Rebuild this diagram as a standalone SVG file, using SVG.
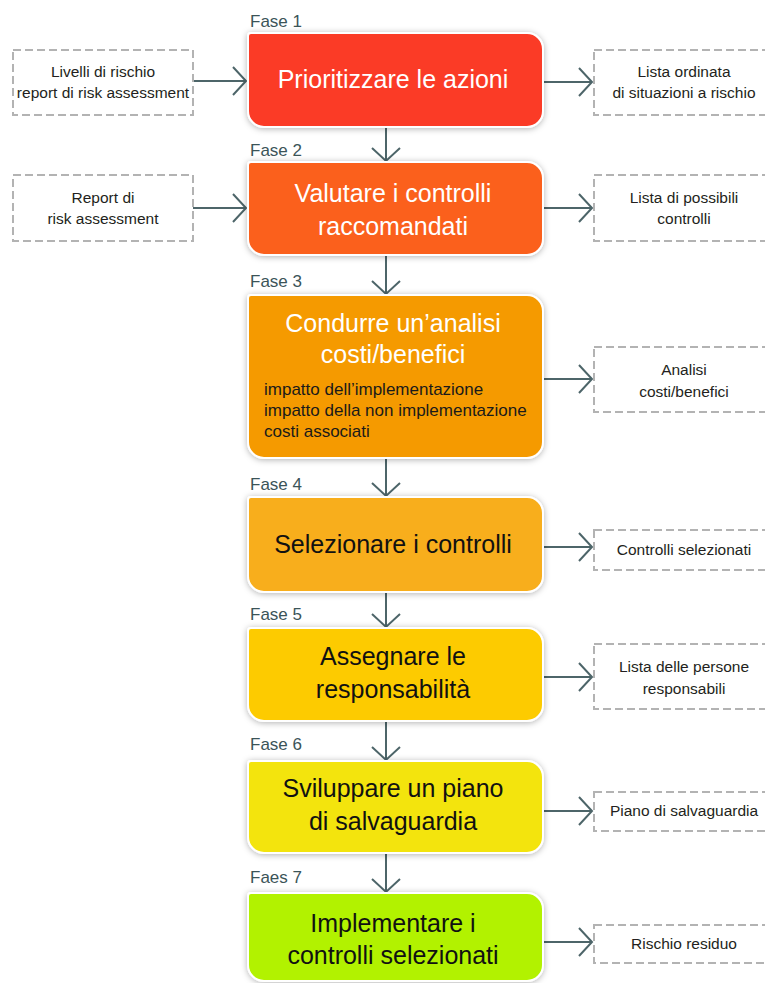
<svg xmlns="http://www.w3.org/2000/svg" width="765" height="983" viewBox="0 0 765 983">
  <style>
    .phase { stroke: #ffffff; stroke-width: 2; filter: url(#soft); }
    .title-w { font-family: "Liberation Sans", Arial, sans-serif; font-size: 25px; fill: #ffffff; text-anchor: middle; }
    .title-k { font-family: "Liberation Sans", Arial, sans-serif; font-size: 25px; fill: #111111; text-anchor: middle; }
    .sub { font-family: "Liberation Sans", Arial, sans-serif; font-size: 17px; fill: #1a1a1a; }
    .step { font-family: "Liberation Sans", Arial, sans-serif; font-size: 17px; fill: #3b5458; }
    .doc { fill: #ffffff; stroke: #b3b3b3; stroke-width: 2; stroke-dasharray: 8 4; }
    .doc-t { font-family: "Liberation Sans", Arial, sans-serif; font-size: 15.5px; fill: #231f20; text-anchor: middle; }
    .link { fill: none; stroke: #4d6569; stroke-width: 2; marker-end: url(#chev); }
  </style>
  <defs>
    <filter id="soft" x="-10%" y="-10%" width="120%" height="130%">
      <feDropShadow dx="0" dy="1" stdDeviation="3" flood-color="#000000" flood-opacity="0.3"/>
    </filter>
    <marker id="chev" viewBox="-16 -16 32 32" markerWidth="32" markerHeight="32" refX="0" refY="0" orient="auto" markerUnits="userSpaceOnUse">
      <path d="M-13,-14 L0,0 L-13,14" fill="none" stroke="#4d6569" stroke-width="2"/>
    </marker>
  </defs>

  <rect width="765" height="983" fill="#ffffff"/>

  <!-- connectors -->
  <g id="connectors">
    <!-- vertical flow between phases -->
    <line class="link" x1="386" y1="128" x2="386" y2="161"/>
    <line class="link" x1="386" y1="256" x2="386" y2="294"/>
    <line class="link" x1="386" y1="459" x2="386" y2="496"/>
    <line class="link" x1="386" y1="593" x2="386" y2="627"/>
    <line class="link" x1="386" y1="722" x2="386" y2="760"/>
    <line class="link" x1="386" y1="854" x2="386" y2="892"/>
    <!-- inputs -->
    <line class="link" x1="193" y1="81" x2="246" y2="81"/>
    <line class="link" x1="193" y1="208" x2="246" y2="208"/>
    <!-- outputs -->
    <line class="link" x1="544" y1="82" x2="592" y2="82"/>
    <line class="link" x1="544" y1="208" x2="592" y2="208"/>
    <line class="link" x1="544" y1="379" x2="592" y2="379"/>
    <line class="link" x1="544" y1="547" x2="592" y2="547"/>
    <line class="link" x1="544" y1="677" x2="592" y2="677"/>
    <line class="link" x1="544" y1="811" x2="592" y2="811"/>
    <line class="link" x1="544" y1="942" x2="592" y2="942"/>
  </g>

  <!-- input documents -->
  <g id="in-1">
    <rect class="doc" x="13" y="50" width="180" height="65"/>
    <text class="doc-t" x="103" y="77">Livelli di rischio</text>
    <text class="doc-t" x="103" y="98">report di risk assessment</text>
  </g>
  <g id="in-2">
    <rect class="doc" x="13" y="175" width="180" height="66"/>
    <text class="doc-t" x="103" y="203">Report di</text>
    <text class="doc-t" x="103" y="224">risk assessment</text>
  </g>

  <!-- phases -->
  <g id="phase-1">
    <text class="step" x="250" y="27">Fase 1</text>
    <path class="phase" fill="#fb3a25" d="M251,33 H527 A16,16 0 0 1 543,49 V111 A16,16 0 0 1 527,127 H264 A16,16 0 0 1 248,111 V36 A3,3 0 0 1 251,33 Z"/>
    <text class="title-w" x="393" y="88">Prioritizzare le azioni</text>
  </g>
  <g id="phase-2">
    <text class="step" x="250" y="156">Fase 2</text>
    <path class="phase" fill="#fb601f" d="M251,162 H527 A16,16 0 0 1 543,178 V239 A16,16 0 0 1 527,255 H264 A16,16 0 0 1 248,239 V165 A3,3 0 0 1 251,162 Z"/>
    <text class="title-w" x="393" y="202">Valutare i controlli</text>
    <text class="title-w" x="393" y="235">raccomandati</text>
  </g>
  <g id="phase-3">
    <text class="step" x="250" y="287">Fase 3</text>
    <path class="phase" fill="#f59a05" d="M251,295 H527 A16,16 0 0 1 543,311 V442 A16,16 0 0 1 527,458 H264 A16,16 0 0 1 248,442 V298 A3,3 0 0 1 251,295 Z"/>
    <text class="title-w" x="393" y="332">Condurre un’analisi</text>
    <text class="title-w" x="393" y="363">costi/benefici</text>
    <text class="sub" x="264" y="395">impatto dell’implementazione</text>
    <text class="sub" x="264" y="416">impatto della non implementazione</text>
    <text class="sub" x="264" y="437">costi associati</text>
  </g>
  <g id="phase-4">
    <text class="step" x="250" y="490">Fase 4</text>
    <path class="phase" fill="#f8ae1a" d="M251,497 H527 A16,16 0 0 1 543,513 V576 A16,16 0 0 1 527,592 H264 A16,16 0 0 1 248,576 V500 A3,3 0 0 1 251,497 Z"/>
    <text class="title-k" x="393" y="553">Selezionare i controlli</text>
  </g>
  <g id="phase-5">
    <text class="step" x="250" y="620">Fase 5</text>
    <path class="phase" fill="#fdcb02" d="M251,628 H527 A16,16 0 0 1 543,644 V705 A16,16 0 0 1 527,721 H264 A16,16 0 0 1 248,705 V631 A3,3 0 0 1 251,628 Z"/>
    <text class="title-k" x="393" y="665">Assegnare le</text>
    <text class="title-k" x="393" y="698">responsabilità</text>
  </g>
  <g id="phase-6">
    <text class="step" x="250" y="750">Fase 6</text>
    <path class="phase" fill="#f3e410" d="M251,761 H527 A16,16 0 0 1 543,777 V837 A16,16 0 0 1 527,853 H264 A16,16 0 0 1 248,837 V764 A3,3 0 0 1 251,761 Z"/>
    <text class="title-k" x="393" y="797">Sviluppare un piano</text>
    <text class="title-k" x="393" y="830">di salvaguardia</text>
  </g>
  <g id="phase-7">
    <text class="step" x="250" y="883">Faes 7</text>
    <path class="phase" fill="#b2f200" d="M251,893 H527 A16,16 0 0 1 543,909 V965 A16,16 0 0 1 527,981 H264 A16,16 0 0 1 248,965 V896 A3,3 0 0 1 251,893 Z"/>
    <text class="title-k" x="393" y="932">Implementare i</text>
    <text class="title-k" x="393" y="964">controlli selezionati</text>
  </g>

  <!-- output documents -->
  <g id="out-1">
    <rect class="doc" x="594" y="50" width="180" height="65"/>
    <text class="doc-t" x="684" y="77">Lista ordinata</text>
    <text class="doc-t" x="684" y="98">di situazioni a rischio</text>
  </g>
  <g id="out-2">
    <rect class="doc" x="594" y="175" width="180" height="66"/>
    <text class="doc-t" x="684" y="203">Lista di possibili</text>
    <text class="doc-t" x="684" y="224">controlli</text>
  </g>
  <g id="out-3">
    <rect class="doc" x="594" y="347" width="180" height="65"/>
    <text class="doc-t" x="684" y="375">Analisi</text>
    <text class="doc-t" x="684" y="397">costi/benefici</text>
  </g>
  <g id="out-4">
    <rect class="doc" x="594" y="530" width="180" height="40"/>
    <text class="doc-t" x="684" y="555">Controlli selezionati</text>
  </g>
  <g id="out-5">
    <rect class="doc" x="594" y="644" width="180" height="65"/>
    <text class="doc-t" x="684" y="672">Lista delle persone</text>
    <text class="doc-t" x="684" y="694">responsabili</text>
  </g>
  <g id="out-6">
    <rect class="doc" x="594" y="792" width="180" height="39"/>
    <text class="doc-t" x="684" y="816">Piano di salvaguardia</text>
  </g>
  <g id="out-7">
    <rect class="doc" x="594" y="925" width="180" height="38"/>
    <text class="doc-t" x="684" y="949">Rischio residuo</text>
  </g>
</svg>
